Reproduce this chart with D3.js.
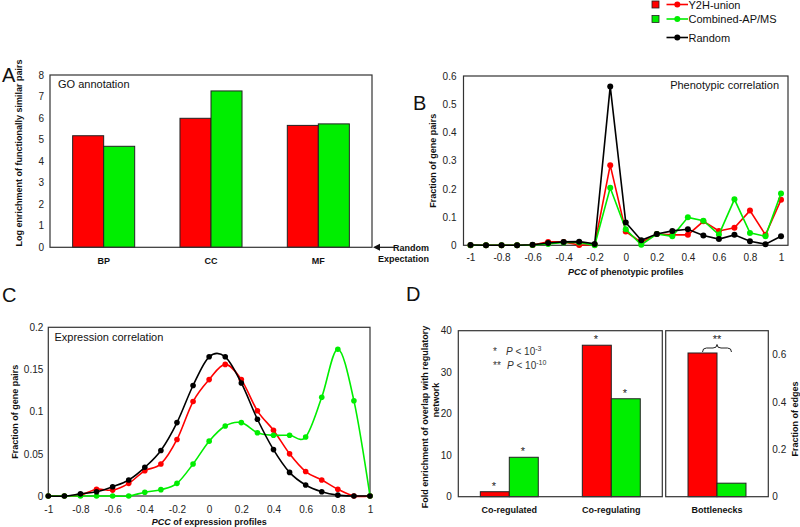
<!DOCTYPE html>
<html><head><meta charset="utf-8">
<script src="https://cdn.jsdelivr.net/npm/d3@7"></script>
<style>
body{margin:0;background:#fff;}
svg{display:block;font-family:"Liberation Sans",Arial,sans-serif;}
.tick text{font-size:10px;fill:#222;}
.ttl{font-size:9px;font-weight:bold;fill:#111;}
</style></head><body>
<svg id="c" width="800" height="527"></svg>
<script>
// ---------- DATA ----------
const seriesNames = ["Y2H-union", "Combined-AP/MS", "Random"];
const seriesColors = ["#ff0000", "#00ee00", "#000000"];

// Panel A
const goCats = ["BP", "CC", "MF"];
const goY2H = [5.18, 5.99, 5.66];
const goAPMS = [4.69, 7.26, 5.73];
const goTicks = [0, 1, 2, 3, 4, 5, 6, 7, 8];

// Panel B / C shared x categories
const pccX = [-1, -0.9, -0.8, -0.7, -0.6, -0.5, -0.4, -0.3, -0.2, -0.1, 0, 0.1, 0.2, 0.3, 0.4, 0.5, 0.6, 0.7, 0.8, 0.9, 1];
const pccTicks = [-1, -0.8, -0.6, -0.4, -0.2, 0, 0.2, 0.4, 0.6, 0.8, 1];

// Panel B
const phenoY2H = [0, 0, 0, 0, 0.001, 0.012, 0.012, 0.001, 0.002, 0.284, 0.049, 0.01, 0.04, 0.037, 0.037, 0.085, 0.051, 0.062, 0.123, 0.037, 0.161];
const phenoAPMS = [0, 0, 0, 0, 0.001, 0.005, 0.01, 0.01, 0, 0.204, 0.057, 0.002, 0.04, 0.032, 0.099, 0.087, 0.038, 0.163, 0.044, 0.032, 0.184];
const phenoRandom = [0.001, 0, 0, 0, 0.002, 0.008, 0.012, 0.013, 0.005, 0.563, 0.081, 0.018, 0.04, 0.051, 0.057, 0.035, 0.022, 0.037, 0.014, 0.004, 0.032];
const phenoYTicks = [0, 0.1, 0.2, 0.3, 0.4, 0.5, 0.6];

// Panel C
const exprY2H = [0, 0, 0.001, 0.008, 0.007, 0.015, 0.03, 0.038, 0.067, 0.112, 0.138, 0.156, 0.138, 0.101, 0.078, 0.05, 0.029, 0.019, 0.008, 0, 0];
const exprAPMS = [0, 0, 0, 0, 0, 0, 0.0045, 0.0075, 0.015, 0.038, 0.065, 0.083, 0.087, 0.075, 0.072, 0.072, 0.07, 0.117, 0.174, 0.113, 0];
const exprRandom = [0, 0, 0.0025, 0.005, 0.011, 0.019, 0.034, 0.054, 0.087, 0.131, 0.165, 0.165, 0.134, 0.091, 0.055, 0.028, 0.013, 0.005, 0.001, 0, 0];
const exprYTicks = [0, 0.05, 0.1, 0.15, 0.2];

// Panel D
const regCats = ["Co-regulated", "Co-regulating"];
const regY2H = [1.2, 36.5];
const regAPMS = [9.5, 23.6];
const regTicks = [0, 10, 20, 30, 40];
const bnCats = ["Bottlenecks"];
const bnY2H = [0.606];
const bnAPMS = [0.057];
const bnTicks = [0, 0.2, 0.4, 0.6];

// ---------- DRAW ----------
const svg = d3.select("#c");
const FONT = '"Liberation Sans",Arial,sans-serif';
const plain = d => String(d);

function styleAxis(g) {
  g.select(".domain").remove();
  g.selectAll(".tick line").remove();
  g.selectAll(".tick text").style("font-size", "10px").style("fill", "#222").style("font-family", FONT);
}
function box(x0, y0, x1, y1) {
  svg.append("rect").attr("x", x0).attr("y", y0).attr("width", x1 - x0).attr("height", y1 - y0)
    .attr("fill", "none").attr("stroke", "#333").attr("stroke-width", 1.2);
}
function letter(t, x, y) {
  svg.append("text").attr("x", x).attr("y", y).text(t).style("font-size", "20px").style("fill", "#111");
}
function vTitle(t, x, y) {
  svg.append("text").attr("class", "ttl").attr("transform", `translate(${x},${y}) rotate(-90)`)
    .attr("text-anchor", "middle").attr("dy", "0.35em").text(t);
}

// ===== Panel A =====
{
  const L = 50, R = 372, T = 75, B = 247.3;
  const y = d3.scaleLinear().domain([0, 8]).range([B, T]);
  const x0 = d3.scaleBand().domain(goCats).range([L, R]).padding(0);
  const x1 = d3.scaleBand().domain([0, 1]).range([0, x0.bandwidth()]).paddingInner(0).paddingOuter(0.73);
  const g = svg.append("g");
  const vals = [goY2H, goAPMS];
  goCats.forEach((c, i) => {
    [0, 1].forEach(s => {
      g.append("rect").attr("x", x0(c) + x1(s)).attr("width", x1.bandwidth())
        .attr("y", y(vals[s][i])).attr("height", B - y(vals[s][i]))
        .attr("fill", seriesColors[s]).attr("stroke", "#222").attr("stroke-width", 1);
    });
  });
  box(L, T, R, B);
  svg.append("g").attr("transform", `translate(${L},0)`)
    .call(d3.axisLeft(y).tickValues(goTicks).tickFormat(plain).tickSize(0).tickPadding(6)).call(styleAxis);
  svg.append("g").attr("transform", `translate(0,${B})`)
    .call(d3.axisBottom(x0).tickSize(0).tickPadding(10)).call(styleAxis)
    .selectAll(".tick text").style("font-size", "9px").style("font-weight", "bold").style("fill", "#111");
  vTitle("Log enrichment of functionally similar pairs", 19, 153);
  svg.append("text").attr("x", 58).attr("y", 88).text("GO annotation").style("font-size", "11px").style("fill", "#111");
  letter("A", 2, 82);
  // Random expectation arrow
  svg.append("line").attr("x1", 378).attr("x2", 394).attr("y1", B).attr("y2", B).attr("stroke", "#111").attr("stroke-width", 1.2);
  svg.append("path").attr("d", `M${R + 1},${B} l7,-3.5 l0,7 z`).attr("fill", "#111");
  svg.append("text").attr("class", "ttl").attr("x", 429).attr("y", B + 3.5).attr("text-anchor", "end").text("Random");
  svg.append("text").attr("class", "ttl").attr("x", 429).attr("y", B + 15).attr("text-anchor", "end").text("Expectation");
}

function linePanel(cfg) {
  const { L, R, T, B, xDom, yDom, yTicks, data, curve, title, titleX, titleY, titleAnchor, xTitle, xTitleY, yTitle, yTitleX, xPad, yPad, r } = cfg;
  const x = d3.scaleLinear().domain(xDom).range([L, R]);
  const y = d3.scaleLinear().domain(yDom).range([B, T]);
  box(L, T, R, B);
  const line = d3.line().x((d, i) => x(pccX[i])).y(d => y(d)).curve(curve);
  data.forEach((arr, s) => {
    const g = svg.append("g");
    g.append("path").attr("d", line(arr)).attr("fill", "none").attr("stroke", seriesColors[s]).attr("stroke-width", 1.6);
    g.selectAll("circle").data(arr).join("circle").attr("cx", (d, i) => x(pccX[i])).attr("cy", d => y(d))
      .attr("r", r).attr("fill", seriesColors[s]);
  });
  svg.append("g").attr("transform", `translate(${L},0)`)
    .call(d3.axisLeft(y).tickValues(yTicks).tickFormat(plain).tickSize(0).tickPadding(yPad)).call(styleAxis);
  svg.append("g").attr("transform", `translate(0,${B})`)
    .call(d3.axisBottom(x).tickValues(pccTicks).tickFormat(plain).tickSize(0).tickPadding(xPad)).call(styleAxis);
  svg.append("text").attr("x", titleX).attr("y", titleY).attr("text-anchor", titleAnchor).text(title)
    .style("font-size", "11px").style("fill", "#111");
  const xt = svg.append("text").attr("class", "ttl").attr("x", (L + R) / 2).attr("y", xTitleY).attr("text-anchor", "middle");
  xt.append("tspan").style("font-style", "italic").text("PCC");
  xt.append("tspan").text(" " + xTitle);
  vTitle(yTitle, yTitleX, (T + B) / 2);
}

// ===== Panel B =====
linePanel({
  L: 463.5, R: 788, T: 76, B: 245.3, xDom: [-1.045, 1.045], yDom: [0, 0.6], yTicks: phenoYTicks,
  data: [phenoY2H, phenoAPMS, phenoRandom], curve: d3.curveLinear,
  title: "Phenotypic correlation", titleX: 779, titleY: 89, titleAnchor: "end",
  xTitle: "of phenotypic profiles", xTitleY: 275, yTitle: "Fraction of gene pairs", yTitleX: 433,
  xPad: 8.5, yPad: 7, r: 3
});
letter("B", 413, 110);

// ===== Panel C =====
linePanel({
  L: 48.3, R: 370, T: 327.3, B: 496, xDom: [-1, 1], yDom: [0, 0.2], yTicks: exprYTicks,
  data: [exprY2H, exprAPMS, exprRandom], curve: d3.curveCardinal.tension(0),
  title: "Expression correlation", titleX: 54.5, titleY: 340.5, titleAnchor: "start",
  xTitle: "of expression profiles", xTitleY: 525, yTitle: "Fraction of gene pairs", yTitleX: 15,
  xPad: 10, yPad: 5, r: 2.8
});
letter("C", 2, 301.5);

// ===== Panel D =====
{
  const T = 330.7, B = 496.7, L1 = 458.3, R1 = 662.3, L2 = 665.7, R2 = 768.3;
  const yL = d3.scaleLinear().domain([0, 40]).range([B, T]);
  const yR = d3.scaleLinear().domain([0, 0.7]).range([B, T]);
  const xA = d3.scaleBand().domain(regCats).range([L1, R1]).padding(0);
  const xB = d3.scaleBand().domain(bnCats).range([L2, R2]).padding(0);
  const sub = d3.scaleBand().domain([0, 1]).range([0, xA.bandwidth()]).paddingInner(0).paddingOuter(0.76);
  const subB = d3.scaleBand().domain([0, 1]).range([0, xB.bandwidth()]).paddingInner(0).paddingOuter(0.77);
  const stars = [];
  regCats.forEach((c, i) => {
    [regY2H, regAPMS].forEach((arr, s) => {
      const bx = xA(c) + sub(s);
      svg.append("rect").attr("x", bx).attr("width", sub.bandwidth()).attr("y", yL(arr[i])).attr("height", B - yL(arr[i]))
        .attr("fill", seriesColors[s]).attr("stroke", "#222").attr("stroke-width", 1);
      stars.push([bx + sub.bandwidth() / 2 - 1, yL(arr[i]) - 6]);
    });
  });
  bnCats.forEach((c, i) => {
    [bnY2H, bnAPMS].forEach((arr, s) => {
      svg.append("rect").attr("x", xB(c) + subB(s)).attr("width", subB.bandwidth()).attr("y", yR(arr[i])).attr("height", B - yR(arr[i]))
        .attr("fill", seriesColors[s]).attr("stroke", "#222").attr("stroke-width", 1);
    });
  });
  box(L1, T, R1, B);
  box(L2, T, R2, B);
  stars.forEach(p => svg.append("text").attr("x", p[0]).attr("y", p[1] + 4).attr("text-anchor", "middle")
    .text("*").style("font-size", "11px").style("fill", "#222"));
  // brace and **
  const bx0 = xB("Bottlenecks") + subB(0) + subB.bandwidth() / 2, bx1 = xB("Bottlenecks") + subB(1) + subB.bandwidth() / 2, bm = (bx0 + bx1) / 2;
  svg.append("path").attr("d", `M${bx0},352 Q${bx0},348 ${bx0 + 4},348 L${bm - 4},348 Q${bm},348 ${bm},344.5 Q${bm},348 ${bm + 4},348 L${bx1 - 4},348 Q${bx1},348 ${bx1},352`)
    .attr("fill", "none").attr("stroke", "#222").attr("stroke-width", 1);
  svg.append("text").attr("x", bm).attr("y", 343).attr("text-anchor", "middle").text("**").style("font-size", "11px").style("fill", "#222");
  // P legend
  const p1 = svg.append("text").attr("x", 493).attr("y", 355).style("font-size", "10px").style("fill", "#333");
  p1.append("tspan").text("*");
  p1.append("tspan").attr("x", 506).style("font-style", "italic").text("P");
  p1.append("tspan").text(" < 10");
  p1.append("tspan").attr("dy", -4).style("font-size", "7px").text("-3");
  const p2 = svg.append("text").attr("x", 493).attr("y", 369).style("font-size", "10px").style("fill", "#333");
  p2.append("tspan").text("**");
  p2.append("tspan").attr("x", 507).style("font-style", "italic").text("P");
  p2.append("tspan").text(" < 10");
  p2.append("tspan").attr("dy", -4).style("font-size", "7px").text("-10");
  // axes
  svg.append("g").attr("transform", `translate(${L1},0)`)
    .call(d3.axisLeft(yL).tickValues(regTicks).tickFormat(plain).tickSize(0).tickPadding(6.5)).call(styleAxis);
  svg.append("g").attr("transform", `translate(${R2},0)`)
    .call(d3.axisRight(yR).tickValues(bnTicks).tickFormat(plain).tickSize(0).tickPadding(4)).call(styleAxis);
  [xA, xB].forEach(sc => {
    svg.append("g").attr("transform", `translate(0,${B})`)
      .call(d3.axisBottom(sc).tickSize(0).tickPadding(9.5)).call(styleAxis)
      .selectAll(".tick text").style("font-size", "9px").style("font-weight", "bold").style("fill", "#111");
  });
  vTitle("Fold enrichment of overlap with regulatory", 425, 417);
  vTitle("network", 436, 400);
  vTitle("Fraction of edges", 795, 419);
  letter("D", 406, 301);
}

// ===== Legend =====
{
  const rows = [{ y: 4.5, sq: true }, { y: 19, sq: true }, { y: 37.5, sq: false }];
  rows.forEach((r, i) => {
    if (r.sq) svg.append("rect").attr("x", 652).attr("y", r.y - 3.5).attr("width", 7).attr("height", 7)
      .attr("fill", seriesColors[i]).attr("stroke", "#222").attr("stroke-width", 0.8);
    svg.append("line").attr("x1", 666.5).attr("x2", 688).attr("y1", r.y).attr("y2", r.y).attr("stroke", seriesColors[i]).attr("stroke-width", 1.6);
    svg.append("circle").attr("cx", 677.3).attr("cy", r.y).attr("r", 3).attr("fill", seriesColors[i]);
    svg.append("text").attr("x", 688.5).attr("y", r.y + 4).text(seriesNames[i]).style("font-size", "11px").style("fill", "#111");
  });
}
</script>
</body></html>
